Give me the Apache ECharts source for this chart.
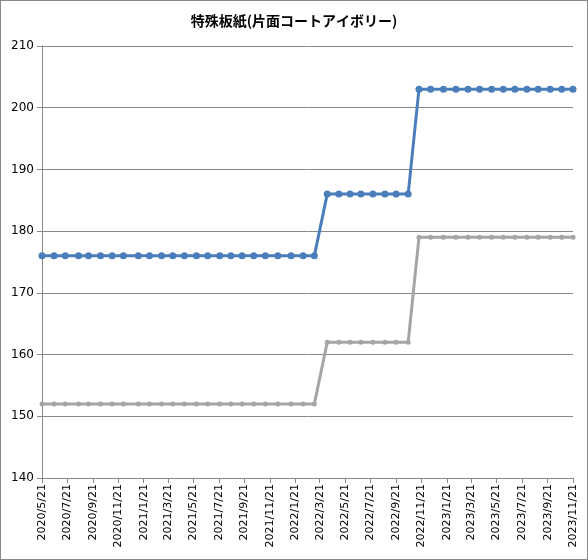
<!DOCTYPE html>
<html>
<head>
<meta charset="utf-8">
<script src="https://cdn.jsdelivr.net/npm/echarts@6/dist/echarts.min.js"></script>
<style>
html, body { margin: 0; padding: 0; background: #fff; }
#echart { width: 586px; height: 558px; border: 1px solid #888; }
</style>
</head>
<body>
<div id="echart"></div>
<script>
const dates = [
  '2020/5/21','2020/6/19','2020/7/16','2020/8/17','2020/9/10','2020/10/9','2020/11/6','2020/12/3',
  '2021/1/8','2021/2/4','2021/3/5','2021/4/1','2021/4/29','2021/5/28','2021/6/24','2021/7/23',
  '2021/8/19','2021/9/15','2021/10/13','2021/11/10','2021/12/10',
  '2022/1/11','2022/2/9','2022/3/8','2022/4/8','2022/5/6','2022/6/2','2022/6/28','2022/7/27',
  '2022/8/25','2022/9/21','2022/10/20','2022/11/15','2022/12/13',
  '2023/1/13','2023/2/12','2023/3/13','2023/4/10','2023/5/9','2023/6/6','2023/7/4','2023/8/2',
  '2023/8/29','2023/9/27','2023/10/25','2023/11/21'
];
const upper = [
  176,176,176,176,176,176,176,176,176,176,176,176,176,176,176,176,176,176,176,176,176,176,176,176,
  186,186,186,186,186,186,186,186,
  203,203,203,203,203,203,203,203,203,203,203,203,203,203
];
const lower = [
  152,152,152,152,152,152,152,152,152,152,152,152,152,152,152,152,152,152,152,152,152,152,152,152,
  162,162,162,162,162,162,162,162,
  179,179,179,179,179,179,179,179,179,179,179,179,179,179
];
const xTickLabels = [
  '2020/5/21','2020/7/21','2020/9/21','2020/11/21','2021/1/21','2021/3/21','2021/5/21','2021/7/21',
  '2021/9/21','2021/11/21','2022/1/21','2022/3/21','2022/5/21','2022/7/21','2022/9/21','2022/11/21',
  '2023/1/21','2023/3/21','2023/5/21','2023/7/21','2023/9/21','2023/11/21'
];
const yTicks = { min: 140, max: 210, step: 10 };

function toTime(s) {
  const [y, m, d] = s.split('/').map(Number);
  return new Date(y, m - 1, d).getTime();
}
function fmt(v) {
  const d = new Date(v);
  return d.getFullYear() + '/' + (d.getMonth() + 1) + '/' + d.getDate();
}
const tickTimes = xTickLabels.map(toTime);

const chart = echarts.init(document.getElementById('echart'));
chart.setOption({
  animation: false,
  textStyle: { fontFamily: 'Noto Sans CJK JP, DejaVu Sans, sans-serif' },
  title: {
    text: '特殊板紙(片面コートアイボリー)', left: 'center', top: 8,
    textStyle: { fontSize: 14, fontWeight: 'bold', color: '#000', fontFamily: 'Noto Sans CJK JP' }
  },
  grid: { left: 41, right: 14, top: 45, bottom: 81 },
  xAxis: {
    type: 'value',
    min: tickTimes[0], max: tickTimes[tickTimes.length - 1],
    axisLine: { lineStyle: { color: '#888' } },
    axisTick: { customValues: tickTimes, length: 5, lineStyle: { color: '#888' } },
    axisLabel: {
      customValues: tickTimes, formatter: v => fmt(v),
      rotate: 90, fontSize: 11, color: '#000', margin: 6, fontFamily: 'DejaVu Sans'
    },
    splitLine: { show: false }
  },
  yAxis: {
    type: 'value', min: yTicks.min, max: yTicks.max, interval: yTicks.step,
    axisLine: { show: true, lineStyle: { color: '#888' } },
    axisTick: { show: true, length: 5, lineStyle: { color: '#888' } },
    axisLabel: { fontSize: 12, color: '#000', margin: 8, fontFamily: 'DejaVu Sans' },
    splitLine: { lineStyle: { color: '#888' } }
  },
  series: [
    { name: 'upper', type: 'line', data: dates.map((d, i) => [toTime(d), upper[i]]),
      symbol: 'circle', symbolSize: 7,
      lineStyle: { color: '#4A7EBB', width: 3 }, itemStyle: { color: '#4A7EBB' } },
    { name: 'lower', type: 'line', data: dates.map((d, i) => [toTime(d), lower[i]]),
      symbol: 'circle', symbolSize: 5,
      lineStyle: { color: '#A5A5A5', width: 3 }, itemStyle: { color: '#A5A5A5' } }
  ]
});
</script>
</body>
</html>
